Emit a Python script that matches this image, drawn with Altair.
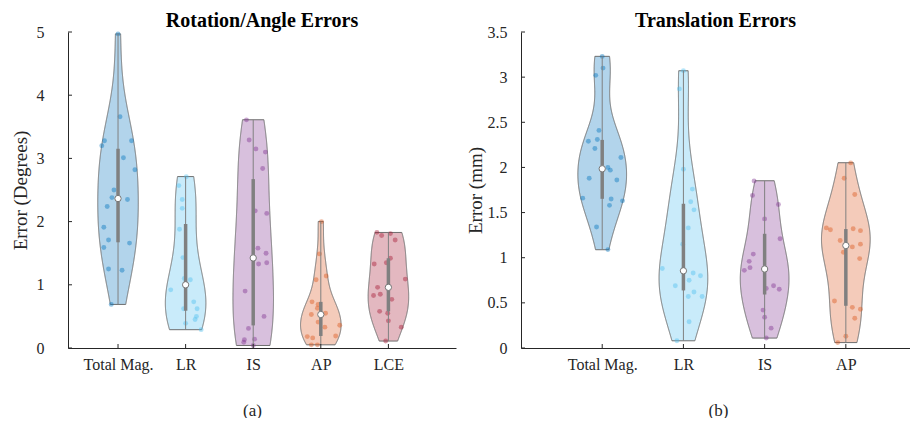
import altair as alt
import pandas as pd

FONT = "Liberation Serif"
AXC = "#262626"

# ---------------- data ----------------
rot_categories = ["Total Mag.", "LR", "IS", "AP", "LCE"]
trans_categories = ["Total Mag.", "LR", "IS", "AP"]
cat_colors = ["#0072BD", "#4DBEEE", "#7E2F8E", "#D95319", "#A2142F"]

rot_yticks = [0, 1, 2, 3, 4, 5]
trans_yticks = [0, 0.5, 1, 1.5, 2, 2.5, 3, 3.5]

rot_total_mag = [4.97, 3.66, 3.28, 3.20, 3.28, 3.01, 2.82, 2.50, 2.38, 2.35, 2.24, 1.91, 1.71, 1.66, 1.59, 1.25, 1.23, 0.69]
rot_total_mag_jit = [0.0, 0.03, -0.20, -0.24, 0.20, 0.08, 0.25, -0.06, -0.09, 0.14, -0.16, -0.21, -0.14, 0.17, -0.21, -0.14, 0.06, -0.10]
rot_lr = [2.71, 2.57, 2.35, 2.21, 1.88, 1.43, 1.10, 1.08, 0.92, 0.73, 0.62, 0.62, 0.50, 0.45, 0.39, 0.29]
rot_lr_jit = [0.01, -0.10, -0.05, -0.05, -0.09, -0.04, -0.02, 0.07, -0.22, 0.12, 0.17, -0.03, 0.16, 0.14, 0.0, 0.23]
rot_is = [3.61, 3.29, 3.15, 3.10, 2.84, 2.17, 2.13, 1.58, 1.50, 1.33, 1.35, 0.90, 0.50, 0.31, 0.14, 0.13, 0.09, 0.04]
rot_is_jit = [-0.10, -0.06, 0.04, 0.18, 0.14, 0.03, 0.20, 0.07, 0.19, 0.08, 0.20, -0.12, 0.16, -0.07, 0.02, -0.13, -0.14, 0.0]
rot_ap = [2.00, 1.49, 1.08, 1.14, 0.73, 0.69, 0.53, 0.63, 0.55, 0.41, 0.33, 0.36, 0.18, 0.16, 0.19, 0.05, 0.05]
rot_ap_jit = [0.01, -0.02, -0.07, 0.08, -0.13, -0.04, -0.14, -0.05, 0.07, -0.04, 0.06, 0.28, -0.20, -0.12, 0.22, -0.14, -0.05]
rot_lce = [1.83, 1.78, 1.81, 1.71, 1.42, 1.35, 1.33, 1.09, 0.96, 0.83, 0.85, 0.77, 0.58, 0.55, 0.43, 0.33, 0.11]
rot_lce_jit = [-0.17, -0.10, 0.03, 0.10, 0.03, -0.03, -0.21, 0.25, -0.16, -0.22, -0.12, 0.05, -0.13, -0.01, 0.0, 0.19, -0.04]

trans_total_mag = [3.23, 3.10, 3.02, 2.41, 2.29, 2.31, 2.21, 2.11, 2.00, 1.97, 1.88, 1.86, 1.66, 1.65, 1.63, 1.58, 1.34, 1.09]
trans_total_mag_jit = [0.0, 0.01, -0.08, -0.04, -0.17, -0.06, -0.09, 0.23, 0.07, 0.10, -0.16, 0.18, -0.24, 0.11, 0.25, 0.09, -0.07, 0.07]
trans_lr = [3.07, 2.87, 1.98, 1.76, 1.62, 1.53, 1.33, 1.15, 0.88, 0.83, 0.80, 0.75, 0.69, 0.62, 0.57, 0.57, 0.29, 0.08]
trans_lr_jit = [0.0, -0.05, 0.0, 0.11, 0.09, 0.13, 0.06, -0.01, -0.26, 0.12, 0.21, 0.07, -0.10, 0.13, 0.06, 0.23, 0.07, -0.08]
trans_is = [1.85, 1.69, 1.59, 1.43, 1.21, 1.04, 0.96, 0.89, 0.86, 0.69, 0.66, 0.65, 0.42, 0.34, 0.22, 0.11]
trans_is_jit = [-0.13, -0.15, 0.17, 0.0, 0.19, -0.14, -0.19, -0.18, -0.25, 0.11, 0.02, 0.18, -0.02, 0.0, 0.08, 0.02]
trans_ap = [2.05, 1.88, 1.70, 1.33, 1.31, 1.32, 1.30, 1.19, 1.15, 1.12, 1.06, 0.99, 0.52, 0.45, 0.43, 0.33, 0.13, 0.06]
trans_ap_jit = [0.06, -0.02, 0.11, -0.24, -0.19, 0.09, 0.18, -0.07, 0.18, 0.08, -0.03, 0.17, -0.14, 0.08, 0.18, 0.11, 0.0, -0.10]

rot_series = [(rot_total_mag, rot_total_mag_jit), (rot_lr, rot_lr_jit), (rot_is, rot_is_jit),
              (rot_ap, rot_ap_jit), (rot_lce, rot_lce_jit)]
trans_series = [(trans_total_mag, trans_total_mag_jit), (trans_lr, trans_lr_jit),
                (trans_is, trans_is_jit), (trans_ap, trans_ap_jit)]


def long_table(categories, series):
    rows = []
    for i, (cat, (vals, jits)) in enumerate(zip(categories, series)):
        for v, j in zip(vals, jits):
            rows.append({"cat": cat, "pos": i + 1, "value": v, "jit": j})
    return pd.DataFrame(rows)


def panel(categories, series, yticks, xdomain, width, height, title, ytitle, caption, caption_x,
          ylabel_pad, ytitle_pad):
    df = long_table(categories, series)
    ymax = yticks[-1]
    colors = cat_colors[: len(categories)]
    color = alt.Color("cat:N", scale=alt.Scale(domain=categories, range=colors), legend=None)
    xs = alt.Scale(domain=xdomain, nice=False, zero=False)
    ys = alt.Scale(domain=[0, ymax], nice=False, zero=False)
    names = "[" + ",".join("'" + c + "'" for c in categories) + "]"
    common = dict(ticks=False, grid=False, domainColor=AXC, domainWidth=1,
                  labelFont=FONT, titleFont=FONT, labelFontSize=16,
                  labelColor=AXC, titleColor=AXC, titleFontWeight="normal")
    x_axis = alt.Axis(values=list(range(1, len(categories) + 1)), labelExpr=names + "[datum.value-1]",
                      title=caption, titleX=caption_x, titleAlign="center", titleAnchor="start",
                      titleFontSize=17, labelPadding=8, titlePadding=30, **common)
    y_axis = alt.Axis(values=yticks, format="~g", title=ytitle, titleFontSize=19,
                      labelPadding=ylabel_pad, titlePadding=ytitle_pad, **common)

    def X(field):
        return alt.X(field, scale=xs, axis=x_axis)

    def Y(field):
        return alt.Y(field, scale=ys, axis=y_axis)

    base = alt.Chart(df)
    steps = int(ymax * 200) + 1
    violin = (
        base.transform_joinaggregate(vmin="min(value)", vmax="max(value)", groupby=["cat"])
        .transform_density("value", groupby=["cat", "pos", "vmin", "vmax"], extent=[0, ymax],
                           steps=steps, as_=["value", "density"])
        .transform_filter("datum.value >= datum.vmin - 0.003 && datum.value <= datum.vmax + 0.003")
        .transform_joinaggregate(dmax="max(density)", groupby=["cat"])
        .transform_calculate(lo="datum.pos - 0.3*datum.density/datum.dmax",
                             hi="datum.pos + 0.3*datum.density/datum.dmax")
        .mark_area(orient="horizontal", fillOpacity=0.3, stroke="#6e6e6e", strokeWidth=1)
        .encode(y=Y("value:Q"), x=X("lo:Q"), x2="hi:Q", color=color, detail="cat:N")
    )
    points = (
        base.transform_calculate(px="datum.pos + datum.jit")
        .mark_circle(size=24, opacity=0.42)
        .encode(x=X("px:Q"), y=Y("value:Q"), color=color)
    )
    stats = base.transform_aggregate(
        q1="q1(value)", q3="q3(value)", med="median(value)", mn="min(value)", mx="max(value)",
        groupby=["cat", "pos"],
    )
    whisker = stats.mark_rule(color="#808080", strokeWidth=1).encode(x=X("pos:Q"), y=Y("mn:Q"), y2="mx:Q")
    box = stats.mark_rule(color="#808080", strokeWidth=3.5).encode(x=X("pos:Q"), y=Y("q1:Q"), y2="q3:Q")
    med = stats.mark_circle(color="white", stroke="#777777", strokeWidth=1, size=40, opacity=1).encode(
        x=X("pos:Q"), y=Y("med:Q"))

    ytick_df = pd.DataFrame({"t": yticks})
    yt = alt.Chart(ytick_df).mark_rule(color=AXC, strokeWidth=1).encode(
        y=Y("t:Q"), x=alt.value(0), x2=alt.value(4))
    xtick_df = pd.DataFrame({"p": list(range(1, len(categories) + 1))})
    xt = alt.Chart(xtick_df).mark_rule(color=AXC, strokeWidth=1).encode(
        x=X("p:Q"), y=alt.value(height), y2=alt.value(height - 4))

    return alt.layer(violin, points, whisker, box, med, yt, xt).properties(
        width=width, height=height,
        title=alt.TitleParams(title, font=FONT, fontSize=20, fontWeight="bold", color="black", offset=-7),
    )


left = panel(rot_categories, rot_series, rot_yticks, [0.26, 6.0], 388, 316,
             "Rotation/Angle Errors", "Error (Degrees)", "(a)", 184, 24, 6)
right = panel(trans_categories, trans_series, trans_yticks, [0.0, 4.79], 389, 316,
              "Translation Errors", "Error (mm)", "(b)", 197, 14, 2)

chart = (
    alt.hconcat(left, right, spacing=10)
    .properties(padding={"left": 3, "top": 3, "right": 0, "bottom": 0}, background="white")
    .configure_view(stroke=None)
)

chart.save("out.html", embed_options={"renderer": "svg", "actions": False})
